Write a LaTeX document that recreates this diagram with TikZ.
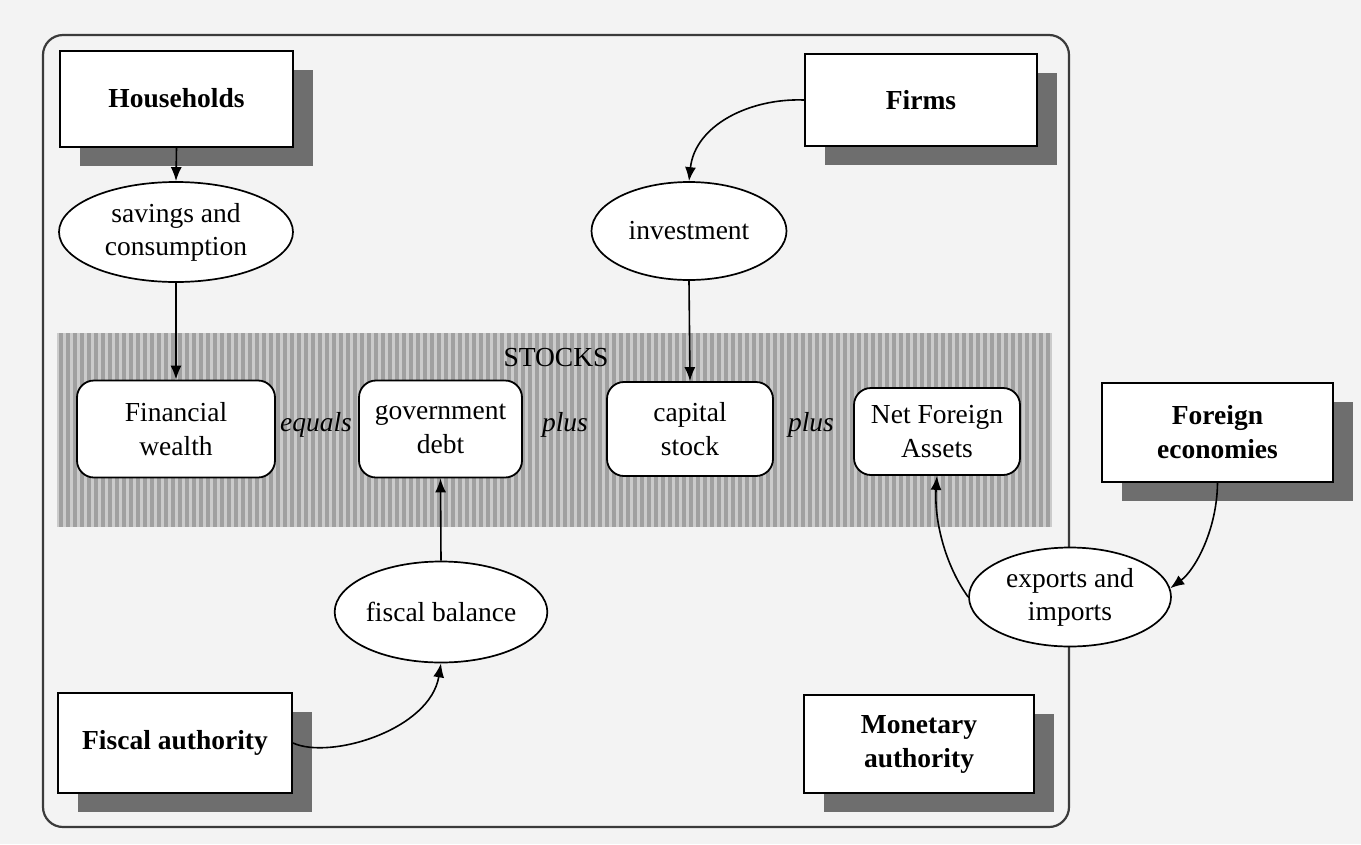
\documentclass[tikz,border=0pt]{standalone}
\usepackage{fontspec}
\setmainfont{Liberation Serif}
\usetikzlibrary{shapes.geometric,arrows.meta,shadows}
\definecolor{shadowgray}{HTML}{6E6E6E}
\definecolor{bggray}{HTML}{F3F3F3}
\definecolor{stockbase}{HTML}{CBCBCB}
\definecolor{stockline}{HTML}{A0A0A0}
\definecolor{framegray}{HTML}{3A3A3A}
\begin{document}
\begin{tikzpicture}[x=1pt,y=-1pt,
  agent/.style={draw=black, line width=2pt, fill=white, inner sep=0pt, align=center,
    font=\bfseries\fontsize{27.5}{34}\selectfont,
    general shadow={fill=shadowgray, shadow xshift=20pt, shadow yshift=-19pt}},
  flowell/.style={ellipse, draw=black, line width=1.7pt, fill=white, inner sep=0pt, align=center,
    font=\fontsize{27.5}{33}\selectfont},
  stockbox/.style={draw=black, line width=1.8pt, fill=white, rounded corners=17pt, inner sep=0pt,
    align=center, font=\fontsize{27.5}{34}\selectfont},
  oplabel/.style={font=\itshape\fontsize{27.5}{34}\selectfont, inner sep=0pt},
  arr/.style={-{Latex[length=14pt,width=11pt]}, line width=1.6pt, draw=black}
]
\useasboundingbox (0,0) rectangle (1361,844);
\fill[bggray] (0,0) rectangle (1361,844);
% outer frame
\draw[framegray, line width=2.2pt, rounded corners=20pt] (43,35) rectangle (1069,827);
% stocks region
\fill[stockbase] (57,333) rectangle (1052,527);
\foreach \x in {59,66,...,1048} \fill[stockline] (\x,333) rectangle ++(3.5,194);
\node[font=\fontsize{27.5}{34}\selectfont, inner sep=0pt] (stocks) at (556,358) {STOCKS};

% agents
\node[agent, minimum width=233pt, minimum height=96pt] (hh) at (176.5,98.5) {Households};
\node[agent, minimum width=232pt, minimum height=92pt] (firms) at (921,100) {Firms};
\node[agent, minimum width=231pt, minimum height=99pt] (foreign) at (1217.5,432.5) {Foreign\\economies};
\node[agent, minimum width=234pt, minimum height=100pt] (fa) at (175,743) {Fiscal authority};
\node[agent, minimum width=230pt, minimum height=98pt] (ma) at (919,744) {Monetary\\authority};

% flows
\node[flowell, minimum width=234pt, minimum height=100pt] (sav) at (176,232) {savings and\\consumption};
\node[flowell, minimum width=195pt, minimum height=98pt] (inv) at (689,231) {investment};
\node[flowell, minimum width=200pt, minimum height=101pt] (fb) at (441,612) {fiscal balance};
\node[flowell, minimum width=202pt, minimum height=99pt] (ex) at (1070,597) {exports and\\imports};

% stocks
\node[stockbox, minimum width=198pt, minimum height=97pt] (fw) at (176,429) {Financial\\wealth};
\node[stockbox, minimum width=163pt, minimum height=97pt] (gd) at (440.5,429) {government\\debt};
\node[stockbox, minimum width=166pt, minimum height=94pt] (cs) at (690,429) {capital\\stock};
\node[stockbox, minimum width=166pt, minimum height=87pt] (nfa) at (937,431.5) {Net Foreign\\Assets};

\node[oplabel] (eq) at (316,425) {equals};
\node[oplabel] (p1) at (565,425) {plus};
\node[oplabel] (p2) at (811,425) {plus};

% connectors
\draw[arr] (hh.south) -- (sav.north);
\draw[arr] (sav.south) -- (fw.north);
\draw[arr] (inv.south) -- (cs.north);
\draw[arr] (fb.north) -- (gd.south);
\draw[arr] (firms.west) .. controls (750,98) and (695,125) .. (inv.north);
\draw[arr] (fa.east) .. controls (330,760) and (430,730) .. (fb.south);
\draw[arr] (foreign.south) .. controls (1217,530) and (1195,570) .. (ex.5);
\draw[arr] (ex.west) .. controls (945,565) and (934,520) .. (nfa.south);
\end{tikzpicture}
\end{document}
